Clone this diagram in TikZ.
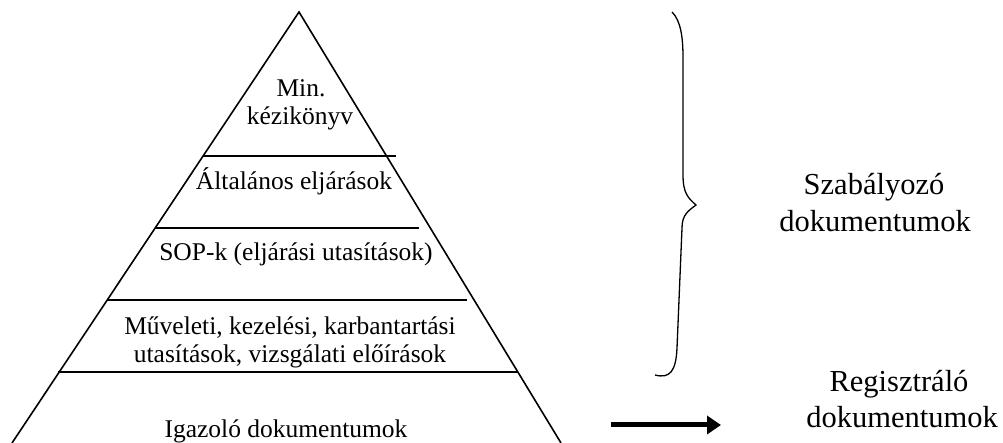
\documentclass[tikz,border=0pt]{standalone}
\usepackage{fontspec}
\setmainfont{Liberation Serif}
\usetikzlibrary{arrows.meta}
\begin{document}
\begin{tikzpicture}[x=1pt,y=1pt,
  pyr/.style={line width=1.6pt},
  layertext/.style={font=\fontsize{25.5}{28}\selectfont, anchor=base, inner sep=0pt, align=center},
  sidetext/.style={font=\fontsize{30.5}{36}\selectfont, anchor=base, inner sep=0pt, align=center},
  bracepath/.style={line width=1.3pt},
  bigarrow/.style={line width=5pt, -{Triangle[length=14pt,width=18pt]}}]
\useasboundingbox (0,0) rectangle (1003,443);

% pyramid outline
\coordinate (apex) at (299,431);
\coordinate (bl) at (12,0);
\coordinate (br) at (561,0);
\draw[pyr] (bl) -- (apex) -- (br);

% layer dividers
\draw[pyr] (203,287) -- (396,287);
\draw[pyr] (156,215) -- (419,215);
\draw[pyr] (107,143) -- (467,143);
\draw[pyr] (58,71) -- (518,71);

% layer labels
\node[layertext] (l1a) at (301,346) {Min.};
\node[layertext] (l1b) at (300,318) {kézikönyv};
\node[layertext] (l2) at (294,253) {Általános eljárások};
\node[layertext] (l3) at (296,182) {SOP-k (eljárási utasítások)};
\node[layertext] (l4a) at (290,108) {Műveleti, kezelési, karbantartási};
\node[layertext] (l4b) at (290,80) {utasítások, vizsgálati előírások};
\node[layertext] (l5) at (286,5) {Igazoló dokumentumok};

% curly brace
\draw[bracepath] (672,431) .. controls (681,422) and (683,405) .. (683,385)
  -- (683,268) .. controls (683,250) and (688,245) .. (696,238)
  .. controls (688,232) and (682,228) .. (682,215)
  -- (677,95) .. controls (676,72) and (670,64) .. (655,68);

\node[sidetext] (s1) at (874,248) {Szabályozó};
\node[sidetext] (s2) at (875,211) {dokumentumok};

% arrow to registering documents
\coordinate (a0) at (611,18);
\coordinate (a1) at (721,18);
\draw[bigarrow] (a0) -- (a1);

\node[sidetext] (r1) at (899,51) {Regisztráló};
\node[sidetext] (r2) at (902,15) {dokumentumok};
\end{tikzpicture}
\end{document}
